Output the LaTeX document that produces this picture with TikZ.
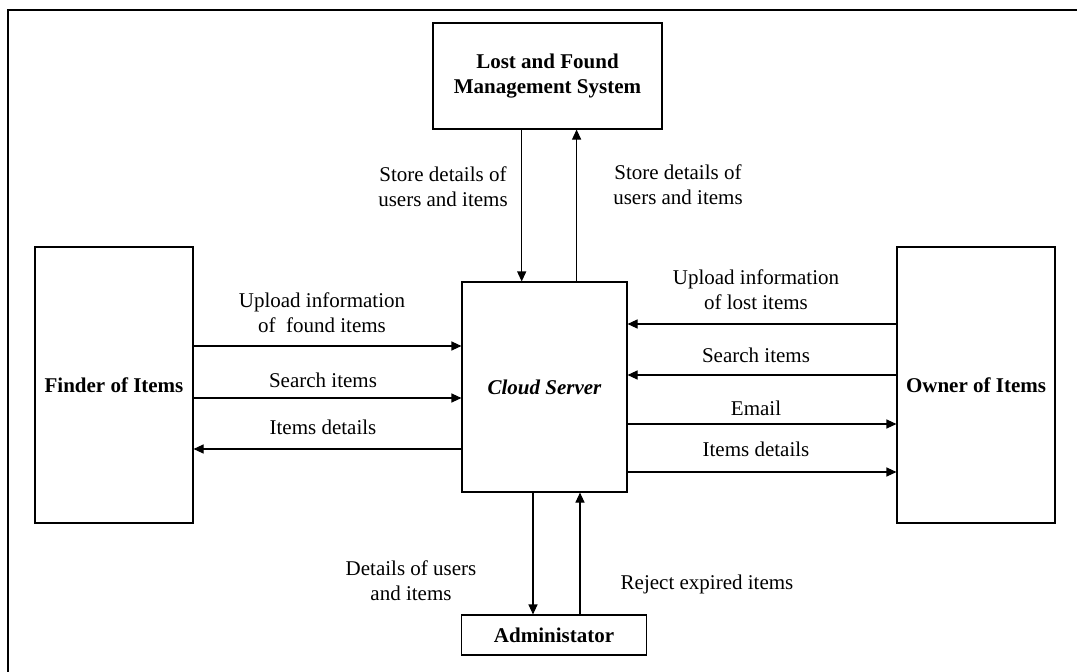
\documentclass[tikz,border=0pt]{standalone}
\usepackage{fontspec}
\setmainfont{Liberation Serif}
\usetikzlibrary{arrows.meta}
\tikzset{
  box/.style={draw, line width=1.1pt, inner sep=0pt, font=\bfseries\fontsize{21}{25}\selectfont, align=center},
  lbl/.style={inner sep=0pt, font=\fontsize{21}{25}\selectfont, align=center},
  arr/.style={line width=1.1pt, -{Triangle[length=10pt,width=9pt]}}
}
\begin{document}
\begin{tikzpicture}[x=1pt,y=-1pt]
\useasboundingbox (0,0) rectangle (1077,672);
% outer frame
\draw[line width=1.5pt] (8,700) -- (8,10) -- (1090,10);
% boxes
\node[box, minimum width=229pt, minimum height=106pt] (lfms) at (547.5,76) {Lost and Found\\Management System};
\node[box, minimum width=165pt, minimum height=210pt, font=\bfseries\itshape\fontsize{21}{25}\selectfont] (cloud) at (544.5,387) {Cloud Server};
\node[box, minimum width=158pt, minimum height=276pt] (finder) at (114,385) {Finder of Items};
\node[box, minimum width=158pt, minimum height=276pt] (owner) at (976,385) {Owner of Items};
\node[box, minimum width=185pt, minimum height=40pt] (admin) at (554,635) {Administator};
% LFMS <-> cloud
\draw[arr] (lfms.south -| 521.7,0) -- (cloud.north -| 521.7,0);
\draw[arr] (cloud.north -| 576.6,0) -- (lfms.south -| 576.6,0);
\node[lbl] (l1) at (443,187) {Store details of\\users and items};
\node[lbl] (l2) at (678,185) {Store details of\\users and items};
% finder <-> cloud
\draw[arr] (finder.east |- 0,346) -- (cloud.west |- 0,346);
\node[lbl] (l3) at (322,313) {Upload information\\of\ \ found items};
\draw[arr] (finder.east |- 0,398) -- (cloud.west |- 0,398);
\node[lbl] (l4) at (323,380) {Search items};
\draw[arr] (cloud.west |- 0,449) -- (finder.east |- 0,449);
\node[lbl] (l5) at (323,427) {Items details};
% owner <-> cloud
\draw[arr] (owner.west |- 0,324) -- (cloud.east |- 0,324);
\node[lbl] (l6) at (756,290) {Upload information\\of lost items};
\draw[arr] (owner.west |- 0,375) -- (cloud.east |- 0,375);
\node[lbl] (l7) at (756,355) {Search items};
\draw[arr] (cloud.east |- 0,424) -- (owner.west |- 0,424);
\node[lbl] (l8) at (756,408) {Email};
\draw[arr] (cloud.east |- 0,472) -- (owner.west |- 0,472);
\node[lbl] (l9) at (756,449) {Items details};
% cloud <-> admin
\draw[arr] (cloud.south -| 533,0) -- (admin.north -| 533,0);
\draw[arr] (admin.north -| 580,0) -- (cloud.south -| 580,0);
\node[lbl] (l10) at (411,581) {Details of users\\and items};
\node[lbl] (l11) at (707,584) {Reject expired items};
\end{tikzpicture}
\end{document}
